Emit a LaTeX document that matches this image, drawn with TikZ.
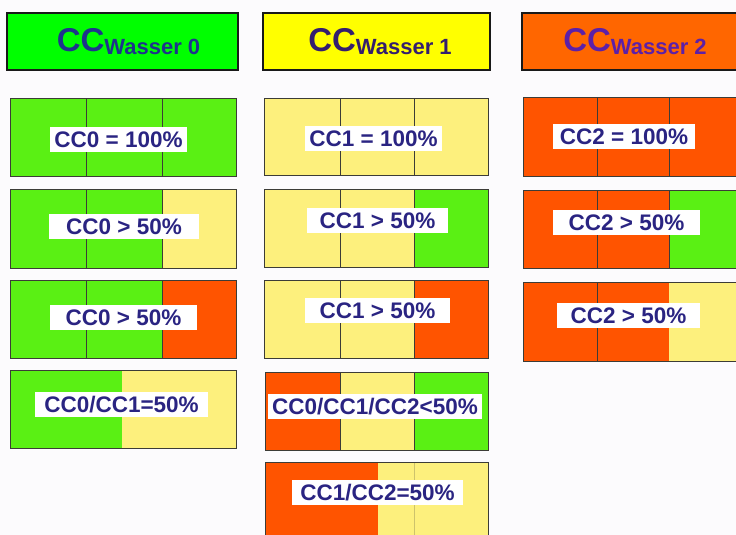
\documentclass[tikz,border=0pt]{standalone}
\usepackage{fontspec}
\setmainfont{Liberation Sans}
\usetikzlibrary{fit}
\definecolor{bg}{RGB}{252,251,253}
\definecolor{hg}{RGB}{0,255,0}
\definecolor{hy}{RGB}{255,255,0}
\definecolor{ho}{RGB}{255,102,0}
\definecolor{tg}{RGB}{30,52,140}
\definecolor{ty}{RGB}{52,30,110}
\definecolor{to}{RGB}{92,32,168}
\definecolor{cg}{RGB}{90,240,20}
\definecolor{cy}{RGB}{253,240,125}
\definecolor{cr}{RGB}{255,84,0}
\definecolor{edge}{RGB}{60,60,55}
\definecolor{lbl}{RGB}{42,36,130}
\newcommand\hdrtext[1]{\fontsize{33}{33}\selectfont CC\raisebox{-3pt}{\fontsize{22}{22}\selectfont Wasser #1}}
\tikzset{
 hdr/.style={draw=black!90, line width=2.5pt, inner sep=0pt},
 htxt/.style={font=\bfseries, inner sep=0pt},
 cellbox/.style={draw=edge, line width=1pt, inner sep=0pt},
 divline/.style={draw=edge, line width=0.9pt},
 faintdiv/.style={draw=edge!25!cy, line width=0.7pt},
 lab/.style={fill=white, text=lbl, font=\fontsize{22.5}{22.5}\selectfont\bfseries,
   text height=16pt, text depth=0pt, minimum height=25pt, inner xsep=0pt, inner ysep=0pt},
}
\begin{document}
\begin{tikzpicture}[x=1pt,y=-1pt]
\useasboundingbox (0,0) rectangle (736,535);
\clip (0,0) rectangle (736,535);
\fill[bg] (0,0) rectangle (736,535);

% headers
\node[hdr, fill=hg, fit={(7,13) (238,70)}] (h0) {};
\node[hdr, fill=hy, fit={(263,13) (490,70)}] (h1) {};
\node[hdr, fill=ho, fit={(522,13) (750,70)}] (h2) {};
\node[htxt, text=tg] (h0t) at (128.5,41.5) {\hdrtext{0}};
\node[htxt, text=ty] (h1t) at (380,41.5) {\hdrtext{1}};
\node[htxt, text=to] (h2t) at (635,41.5) {\hdrtext{2}};

% ---------- column 0 ----------
\fill[cg] (10,98) rectangle (236,176);
\fill[cg] (10,189) rectangle (162,268); \fill[cy] (162,189) rectangle (236,268);
\fill[cg] (10,280) rectangle (162,358); \fill[cr] (162,280) rectangle (236,358);
\fill[cg] (10,370) rectangle (122,448); \fill[cy] (122,370) rectangle (236,448);
\draw[divline] (86,98) -- (86,176) (162,98) -- (162,176);
\draw[divline] (86,189) -- (86,268) (162,189) -- (162,268);
\draw[divline] (86,280) -- (86,358) (162,280) -- (162,358);
\node[cellbox, fit={(10,98) (236,176)}] (c0r1) {};
\node[cellbox, fit={(10,189) (236,268)}] (c0r2) {};
\node[cellbox, fit={(10,280) (236,358)}] (c0r3) {};
\node[cellbox, fit={(10,370) (236,448)}] (c0r4) {};

% ---------- column 1 ----------
\fill[cy] (264,98) rectangle (488,175);
\fill[cy] (264,189) rectangle (414,267); \fill[cg] (414,189) rectangle (488,267);
\fill[cy] (264,280) rectangle (414,358); \fill[cr] (414,280) rectangle (488,358);
\fill[cr] (265,372) rectangle (340,450); \fill[cy] (340,372) rectangle (414,450); \fill[cg] (414,372) rectangle (488,450);
\fill[cr] (265,462) rectangle (378,545); \fill[cy] (378,462) rectangle (488,545);
\draw[divline] (340,98) -- (340,175) (414,98) -- (414,175);
\draw[divline] (340,189) -- (340,267) (414,189) -- (414,267);
\draw[divline] (340,280) -- (340,358) (414,280) -- (414,358);
\draw[divline] (340,372) -- (340,450) (414,372) -- (414,450);
\draw[faintdiv] (414,462) -- (414,545);
\node[cellbox, fit={(264,98) (488,175)}] (c1r1) {};
\node[cellbox, fit={(264,189) (488,267)}] (c1r2) {};
\node[cellbox, fit={(264,280) (488,358)}] (c1r3) {};
\node[cellbox, fit={(265,372) (488,450)}] (c1r4) {};
\node[cellbox, fit={(265,462) (488,545)}] (c1r5) {};

% ---------- column 2 ----------
\fill[cr] (523,97) rectangle (750,176);
\fill[cr] (523,190) rectangle (669,268); \fill[cg] (669,190) rectangle (750,268);
\fill[cr] (523,282) rectangle (669,361); \fill[cy] (669,282) rectangle (750,361);
\draw[divline] (597,97) -- (597,176) (669,97) -- (669,176);
\draw[divline] (597,190) -- (597,268) (669,190) -- (669,268);
\draw[divline] (597,282) -- (597,361);
\node[cellbox, fit={(523,97) (750,176)}] (c2r1) {};
\node[cellbox, fit={(523,190) (750,268)}] (c2r2) {};
\node[cellbox, fit={(523,282) (750,361)}] (c2r3) {};

% ---------- labels ----------
\node[lab, minimum width=137pt] (l0a) at (118.5,139.5) {CC0 = 100\%};
\node[lab, minimum width=150pt] (l0b) at (124,226.5) {CC0 > 50\%};
\node[lab, minimum width=147pt] (l0c) at (123.5,317.5) {CC0 > 50\%};
\node[lab, minimum width=173pt] (l0d) at (121.5,404) {CC0/CC1=50\%};
\node[lab, minimum width=137pt] (l1a) at (373.5,138.5) {CC1 = 100\%};
\node[lab, minimum width=141pt] (l1b) at (377.5,220.5) {CC1 > 50\%};
\node[lab, minimum width=145pt] (l1c) at (377.5,310.5) {CC1 > 50\%};
\node[lab, minimum width=214pt] (l1d) at (375,406) {CC0/CC1/CC2<50\%};
\node[lab, minimum width=171pt] (l1e) at (377.5,492.5) {CC1/CC2=50\%};
\node[lab, minimum width=142pt] (l2a) at (624,136.5) {CC2 = 100\%};
\node[lab, minimum width=147pt] (l2b) at (626.5,222.5) {CC2 > 50\%};
\node[lab, minimum width=143pt] (l2c) at (628.5,315.5) {CC2 > 50\%};
\end{tikzpicture}
\end{document}
